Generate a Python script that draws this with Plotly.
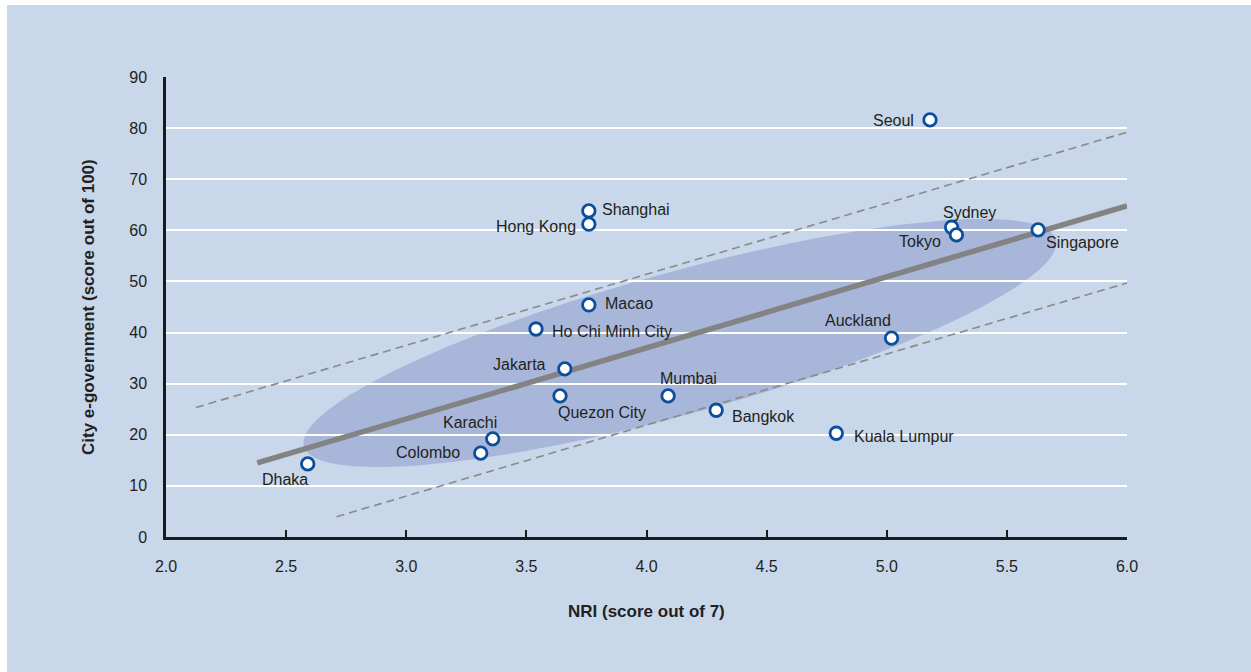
import numpy as np
import plotly.graph_objects as go

# City scores: NRI (x) vs. city e-government (y)
cities = ["Seoul", "Shanghai", "Hong Kong", "Sydney", "Tokyo", "Singapore",
          "Macao", "Ho Chi Minh City", "Auckland", "Jakarta", "Quezon City",
          "Mumbai", "Bangkok", "Kuala Lumpur", "Karachi", "Colombo", "Dhaka"]
nri = [5.18, 3.76, 3.76, 5.27, 5.29, 5.63,
       3.76, 3.54, 5.02, 3.66, 3.64,
       4.09, 4.29, 4.79, 3.36, 3.31, 2.59]
egov = [81.6, 63.8, 61.2, 60.6, 59.1, 60.1,
        45.4, 40.7, 38.9, 32.9, 27.6,
        27.6, 24.8, 20.3, 19.2, 16.4, 14.3]

# label placement: (xanchor, xshift px, yshift px)
label_pos = {
    "Seoul": ("right", -14, -1), "Shanghai": ("left", 11, 1),
    "Hong Kong": ("right", -11, -2), "Sydney": ("center", 18, 15),
    "Tokyo": ("right", -13, -7), "Singapore": ("left", 6, -13),
    "Macao": ("left", 14, 1), "Ho Chi Minh City": ("left", 14, -3),
    "Auckland": ("center", -34, 18), "Jakarta": ("right", -17, 4),
    "Quezon City": ("left", -4, -17), "Mumbai": ("center", 20, 17),
    "Bangkok": ("left", 14, -6), "Kuala Lumpur": ("left", 16, -3),
    "Karachi": ("center", -23, 16), "Colombo": ("right", -19, 1),
    "Dhaka": ("center", -23, -16),
}

# regression line and band
trend_slope = 13.9
trend_icpt = -18.6
trend_x = [2.38, 6.0]
upper_icpt = -4.2
upper_x = [2.125, 6.0]
lower_icpt = -33.7
lower_x = [2.71, 6.0]

# confidence ellipse: centre and two conjugate semi-axis vectors (data units)
ell_center = (4.139, 37.96)
ell_u = (1.565, 20.23)
ell_v = (-0.0783, 13.40)

x_ticks = [2.0, 2.5, 3.0, 3.5, 4.0, 4.5, 5.0, 5.5, 6.0]
y_ticks = [0, 10, 20, 30, 40, 50, 60, 70, 80, 90]

PANEL = "#c8d7e9"
ELLIPSE = "#a8b7d9"
TEXT = "#231f20"
SANS = "Liberation Sans, Arial, Helvetica, sans-serif"

fig = go.Figure()

t = np.linspace(0, 2 * np.pi, 181)
ex = ell_center[0] + np.cos(t) * ell_u[0] + np.sin(t) * ell_v[0]
ey = ell_center[1] + np.cos(t) * ell_u[1] + np.sin(t) * ell_v[1]
path = "M " + " L ".join(f"{a:.4f},{b:.4f}" for a, b in zip(ex, ey)) + " Z"

def line_y(xs, icpt):
    return [trend_slope * x + icpt for x in xs]

fig.add_trace(go.Scatter(x=upper_x, y=line_y(upper_x, upper_icpt), mode="lines",
                         line=dict(color="#8a8a8a", width=1.6, dash="8px,5px"),
                         hoverinfo="skip", showlegend=False))
fig.add_trace(go.Scatter(x=lower_x, y=line_y(lower_x, lower_icpt), mode="lines",
                         line=dict(color="#8a8a8a", width=1.6, dash="8px,5px"),
                         hoverinfo="skip", showlegend=False))
fig.add_trace(go.Scatter(x=trend_x, y=line_y(trend_x, trend_icpt), mode="lines",
                         line=dict(color="#838383", width=5.5),
                         hoverinfo="skip", showlegend=False))
fig.add_trace(go.Scatter(x=nri, y=egov, mode="markers", text=cities,
                         marker=dict(size=12.5, color="white",
                                     line=dict(color="#0b4f9c", width=2.8)),
                         hovertemplate="%{text}: %{x}, %{y}<extra></extra>",
                         showlegend=False))

for name, xv, yv in zip(cities, nri, egov):
    anchor, dx, dy = label_pos[name]
    fig.add_annotation(x=xv, y=yv, text=name, showarrow=False,
                       xanchor=anchor, yanchor="middle", xshift=dx, yshift=dy,
                       font=dict(family=SANS, size=16, color=TEXT))

# axis titles
fig.add_annotation(x=0.5, y=-0.163, xref="paper", yref="paper",
                   text="<b>NRI (score out of 7)</b>", showarrow=False,
                   xanchor="center", yanchor="middle",
                   font=dict(family=SANS, size=17, color=TEXT))
fig.add_annotation(x=-0.0812, y=0.5, xref="paper", yref="paper",
                   text="<b>City e-government (score out of 100)</b>",
                   showarrow=False, textangle=-90,
                   xanchor="center", yanchor="middle",
                   font=dict(family=SANS, size=17, color=TEXT))

shapes = [
    dict(type="path", path=path, xref="x", yref="y", layer="below",
         fillcolor=ELLIPSE, line=dict(width=0)),
    # white margin strips on the left and top edges
    dict(type="rect", xref="paper", yref="paper", x0=-0.2, x1=-0.1655,
         y0=-0.4, y1=1.3, fillcolor="white", line=dict(width=0), layer="above"),
    dict(type="rect", xref="paper", yref="paper", x0=-0.2, x1=1.2,
         y0=1.1565, y1=1.3, fillcolor="white", line=dict(width=0), layer="above"),
]

fig.update_layout(
    width=1251, height=672,
    margin=dict(l=166, r=124, t=77, b=135),
    paper_bgcolor=PANEL, plot_bgcolor=PANEL,
    shapes=shapes,
    xaxis=dict(range=[2.0, 6.0], tickvals=x_ticks,
               ticktext=[f"{v:.1f}" for v in x_ticks],
               showgrid=False, zeroline=False,
               showline=True, linecolor="#1a1a1a", linewidth=2.5,
               ticks="inside", ticklen=7, tickwidth=2, tickcolor="#1a1a1a",
               ticklabelstandoff=13,
               tickfont=dict(family=SANS, size=16, color=TEXT)),
    yaxis=dict(range=[0, 90], tickvals=y_ticks,
               showgrid=True, gridcolor="white", gridwidth=2,
               zeroline=False, showline=True, linecolor="#1a1a1a", linewidth=2.5,
               ticks="", ticklabelstandoff=13,
               tickfont=dict(family=SANS, size=16, color=TEXT)),
)

fig.write_html("out.html")
